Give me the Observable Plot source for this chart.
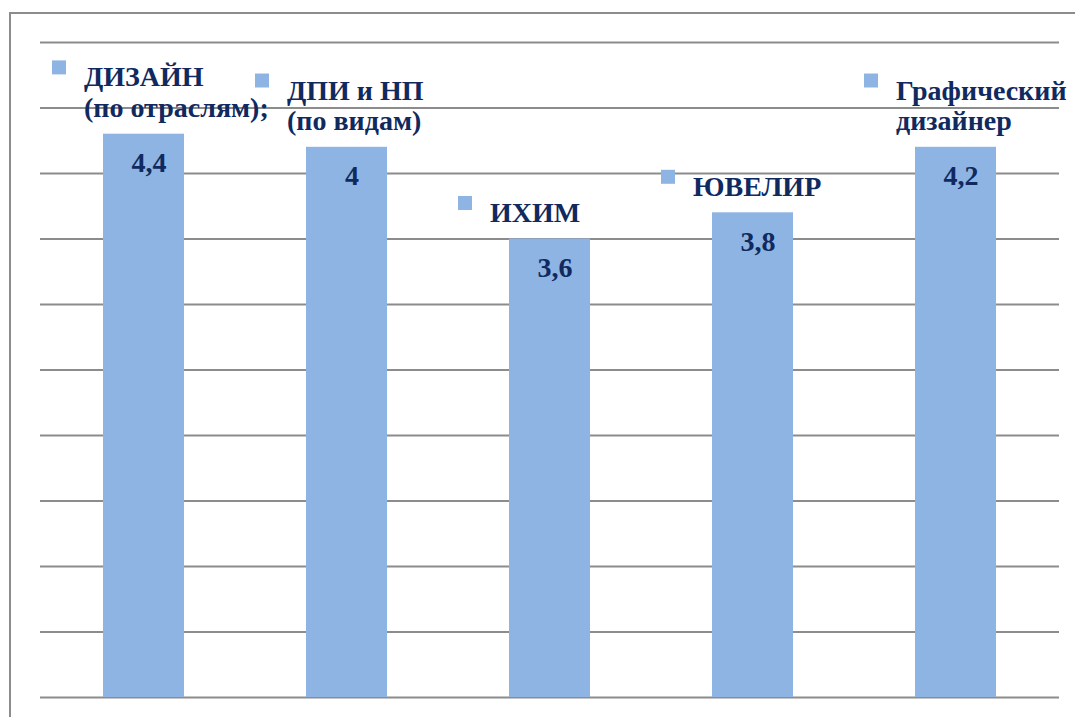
<!DOCTYPE html>
<html><head><meta charset="utf-8">
<script src="https://cdn.jsdelivr.net/npm/d3@7"></script>
<script src="https://cdn.jsdelivr.net/npm/@observablehq/plot@0.6"></script>
<style>
body{margin:0;background:#fff;}
#wrap{position:relative;width:1075px;height:717px;overflow:hidden;background:#fff;}
#frame{position:absolute;left:9px;top:12px;right:-10px;bottom:-10px;border-left:2px solid #8c8c8c;border-top:2px solid #8c8c8c;}
#chart{position:absolute;left:0;top:0;}
#chart svg text{font-family:"Liberation Serif","Tinos","Times New Roman","Times","Nimbus Roman","Nimbus Roman No9 L","FreeSerif","Noto Serif","DejaVu Serif","Georgia",serif !important;font-weight:bold;}
</style></head><body>
<div id="wrap"><div id="frame"></div><div id="chart"></div></div>
<script>
const categories = ["ДИЗАЙН\n(по отраслям);", "ДПИ и НП\n(по видам)", "ИХИМ", "ЮВЕЛИР", "Графический\nдизайнер"];
const values = [4.3, 4.2, 3.5, 3.7, 4.2];
const valueLabels = ["4,4", "4", "3,6", "3,8", "4,2"];
const yTicks = [0, 0.5, 1, 1.5, 2, 2.5, 3, 3.5, 4, 4.5, 5];

const data = categories.map((c, i) => ({cat: c, value: values[i], label: valueLabels[i], lines: c.split("\n").length}));

const navy = "#102a60";
const barColor = "#8eb4e3";
const font = "Liberation Serif";
const fs = 28;
const lh = 1.1;
const textDy = -17;

const lineCounts = Array.from(new Set(data.map(d => d.lines)));
const markerMarks = lineCounts.map(n => Plot.dot(data.filter(d => d.lines === n), {
  x: "cat", y: "value", symbol: "square", r: 7.9, fill: barColor,
  dx: -85, dy: textDy - 8 - (n - 1) * lh * fs - 11
}));

const chart = Plot.plot({
  width: 1075,
  height: 717,
  marginLeft: 40,
  marginRight: 16,
  marginTop: 42,
  marginBottom: 20,
  x: {domain: categories, paddingInner: 0.6, paddingOuter: 0.3, axis: null},
  y: {domain: [0, 5], axis: null},
  style: {background: "transparent", fontFamily: font},
  marks: [
    Plot.ruleY(yTicks, {stroke: "#8c8c8c", strokeWidth: 1.8}),
    Plot.barY(data, {x: "cat", y: "value", fill: barColor}),
    Plot.text(data, {
      x: "cat", y: "value", text: "label", lineAnchor: "top", dy: 18, dx: 5,
      fill: navy, fontSize: fs, fontWeight: "bold", fontFamily: font
    }),
    Plot.text(data, {
      x: "cat", y: "value", text: "cat", textAnchor: "start", lineAnchor: "bottom",
      lineHeight: lh, dx: -60, dy: textDy,
      fill: navy, fontSize: fs, fontWeight: "bold", fontFamily: font
    }),
    ...markerMarks
  ]
});
document.getElementById("chart").appendChild(chart);
</script>
</body></html>
